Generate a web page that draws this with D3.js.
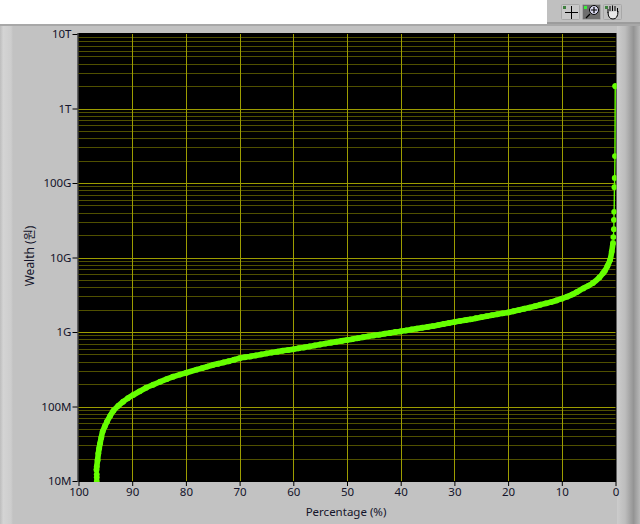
<!DOCTYPE html>
<html><head><meta charset="utf-8">
<script src="https://cdnjs.cloudflare.com/ajax/libs/d3/7.8.5/d3.min.js"></script>
<style>html,body{margin:0;padding:0;background:#fff;overflow:hidden}svg{display:block}
text{font-family:"Noto Sans","Noto Sans CJK KR",sans-serif;font-size:11.5px;fill:#14142a}</style>
</head><body><svg id="c" width="640" height="524"></svg>
<script>
const percentTicks=[100,90,80,70,60,50,40,30,20,10,0];
const wealthTicks=[1e7,1e8,1e9,1e10,1e11,1e12,1e13];
const wealthLabels=["10M","100M","1G","10G","100G","1T","10T"];
const percent=[96.6,96.6,96.6,96.65,96.6,96.45,96.3,96.15,95.98,95.75,95.5,95.1,94.7,94.1,93.5,92.6,91.7,90.8,89.8,88.6,87.4,86.1,84.8,83.6,82.4,81.1,79.9,78,77,76,75,74,73,72,71,70,69,68,67,66,65,64,63,62,61,60,59,58,57,56,55,54,53,52,51,50,49,48,47,46,45,44,43,42,41,40,39,38,37,36,35,34,33,32,31,30,29,28,27,26,25,24,23,22,21,20,19,18,17,16,15,14,13,12,11,10,9,8,7.2,6,5,4.2,3,2.3,2,1.5,1,0.7,0.46,0.4,0.3,0.3,0.25,0.2,0.15,0.1,0.05,0.03];
const wealth=[1.0e7,1.12e7,1.23e7,1.4e7,1.56e7,1.9e7,2.35e7,2.75e7,3.2e7,3.85e7,4.6e7,5.4e7,6.25e7,7.5e7,8.8e7,1.02e8,1.16e8,1.29e8,1.43e8,1.6e8,1.79e8,1.96e8,2.15e8,2.33e8,2.51e8,2.68e8,2.84e8,3.12e8,3.27e8,3.43e8,3.6e8,3.75e8,3.9e8,4.05e8,4.25e8,4.44e8,4.58e8,4.7e8,4.85e8,5e8,5.15e8,5.3e8,5.45e8,5.6e8,5.72e8,5.85e8,6.05e8,6.2e8,6.4e8,6.6e8,6.8e8,7e8,7.2e8,7.4e8,7.6e8,7.8e8,8e8,8.25e8,8.5e8,8.75e8,9e8,9.2e8,9.5e8,9.7e8,1e9,1.02e9,1.05e9,1.08e9,1.11e9,1.14e9,1.17e9,1.2e9,1.24e9,1.28e9,1.32e9,1.36e9,1.4e9,1.44e9,1.48e9,1.53e9,1.58e9,1.63e9,1.68e9,1.73e9,1.78e9,1.83e9,1.9e9,1.97e9,2.05e9,2.13e9,2.22e9,2.32e9,2.42e9,2.52e9,2.65e9,2.8e9,2.98e9,3.2e9,3.44e9,3.85e9,4.2e9,4.55e9,5.4e9,6.2e9,6.6e9,7.7e9,9.3e9,1.2e10,1.57e10,1.88e10,2.4e10,3.2e10,4.1e10,8.8e10,1.17e11,2.3e11,2.0e12,2.0e12];

const svg=d3.select("#c");
const m={l:78.5,r:615.5,t:34,b:481};
const x=d3.scaleLinear().domain([100,0]).range([m.l,m.r]);
const y=d3.scaleLog().domain([1e7,1e13]).range([m.b,m.t]);
const defs=svg.append("defs");
const gr=defs.append("linearGradient").attr("id","gr");
[[0,"#cccccc"],[.35,"#bdbdbd"],[.72,"#949494"],[1,"#b8b8b8"]].forEach(s=>gr.append("stop").attr("offset",s[0]).attr("stop-color",s[1]));
const gl=defs.append("linearGradient").attr("id","gl");
[[0,"#bdbdbd"],[.25,"#d4d4d4"],[.85,"#cdcdcd"],[1,"#c2c2c2"]].forEach(s=>gl.append("stop").attr("offset",s[0]).attr("stop-color",s[1]));
// frame
svg.append("rect").attr("x",0).attr("y",24).attr("width",640).attr("height",500).attr("fill","#c2c2c2");
svg.append("rect").attr("x",0).attr("y",24).attr("width",640).attr("height",2).attr("fill","#a8a8a8");
svg.append("rect").attr("x",0).attr("y",26).attr("width",13).attr("height",498).attr("fill","url(#gl)");
svg.append("rect").attr("x",617).attr("y",26).attr("width",23).attr("height",498).attr("fill","url(#gr)");
// toolbar
svg.append("rect").attr("x",547).attr("y",0).attr("width",93).attr("height",24).attr("fill","#c0c0c0");
svg.append("rect").attr("x",547).attr("y",22).attr("width",93).attr("height",2).attr("fill","#9c9c9c");
[[561,"#c8c8c8"],[582,"#6e6e6e"],[603,"#c0c0c0"]].forEach((b,i)=>{
  svg.append("rect").attr("x",b[0]+.5).attr("y",4.5).attr("width",18).attr("height",15).attr("rx",1).attr("fill",b[1]).attr("stroke","#a8a8a8");
  svg.append("rect").attr("x",b[0]+2).attr("y",6).attr("width",3).attr("height",3).attr("fill",i==1?"#3cf03c":"#3f7f3f");
});
svg.append("path").attr("d","M565 12.5H578M571.5 6V19").attr("stroke","#000").attr("stroke-width",1);
svg.append("circle").attr("cx",594).attr("cy",10).attr("r",4.5).attr("fill","#d8d8f0").attr("stroke","#000");
svg.append("path").attr("d","M591 10H597M594 7V13M590 14L586 18").attr("stroke","#000").attr("stroke-width",1.2).attr("fill","none");
svg.append("path").attr("d","M608 13V9M610 11V6M612.5 11V5.5M615 11V6M617.5 12V8M608 12Q608 19 613 19Q618 19 618 11").attr("stroke","#000").attr("fill","#e8e8e8");
// plot
svg.append("rect").attr("x",m.l-1).attr("y",m.t-1).attr("width",m.r-m.l+2).attr("height",m.b-m.t+2).attr("fill","#000");
svg.append("rect").attr("x",m.l-1).attr("y",m.t-1).attr("width",1).attr("height",m.b-m.t+2).attr("fill","#666");
const plot=svg.append("g");
const minor=[];
wealthTicks.slice(0,-1).forEach(d=>{for(let k=2;k<10;k++)minor.push(d*k);});
const py=d=>Math.round(y(d))+.5;
plot.selectAll(".mn").data(minor).join("line").attr("x1",m.l).attr("x2",m.r).attr("y1",py).attr("y2",py).attr("stroke","#505000");
plot.selectAll(".mj").data(wealthTicks.slice(1,-1)).join("line").attr("x1",m.l).attr("x2",m.r).attr("y1",py).attr("y2",py).attr("stroke","#9c9c00");
plot.selectAll(".vg").data(percentTicks.slice(1,-1)).join("line").attr("y1",m.t).attr("y2",m.b).attr("x1",d=>Math.round(x(d))+.5).attr("x2",d=>Math.round(x(d))+.5).attr("stroke","#9c9c00");
// axes
const ax=svg.append("g").attr("transform",`translate(0,${m.b+1})`).call(d3.axisBottom(x).tickValues(percentTicks).tickFormat(d3.format("d")).tickSize(4).tickPadding(2));
const ay=svg.append("g").attr("transform",`translate(${m.l-1},0)`).call(d3.axisLeft(y).tickValues(wealthTicks).tickFormat((d,i)=>wealthLabels[i]).tickSize(5).tickPadding(1));
[ax,ay].forEach(a=>{a.select(".domain").remove();a.selectAll("line").attr("stroke","#000");a.selectAll("text").attr("font-family",null).attr("font-size",null);});
// series
const clip=defs.append("clipPath").attr("id","pc");
clip.append("rect").attr("x",m.l).attr("y",m.t).attr("width",m.r-m.l+1).attr("height",m.b-m.t+1);
const s=svg.append("g").attr("clip-path","url(#pc)");
const pts=percent.map((p,i)=>[p,wealth[i]]);
const line=d3.line().x(d=>x(d[0])).y(d=>y(d[1]));
s.append("path").attr("fill","none").attr("stroke","#66ff00").attr("stroke-width",1.4).attr("d",line(pts.filter(d=>d[1]>1.6e10)));
s.append("path").attr("fill","none").attr("stroke","#66ff00").attr("stroke-width",5.6).attr("stroke-linejoin","round").attr("d",line.curve(d3.curveCatmullRom)(pts.filter(d=>d[1]>1.3e7&&d[1]<1.6e10)));
s.selectAll("circle").data(pts).join("circle").attr("cx",d=>x(d[0])).attr("cy",d=>y(d[1])).attr("r",2.9).attr("fill","#66ff00");
// labels
svg.append("text").attr("x",346).attr("y",516).attr("text-anchor","middle").text("Percentage (%)");
svg.append("text").attr("transform","translate(34,256) rotate(-90)").attr("text-anchor","middle").style("font-size","12px").text("Wealth (원)");
</script></body></html>
